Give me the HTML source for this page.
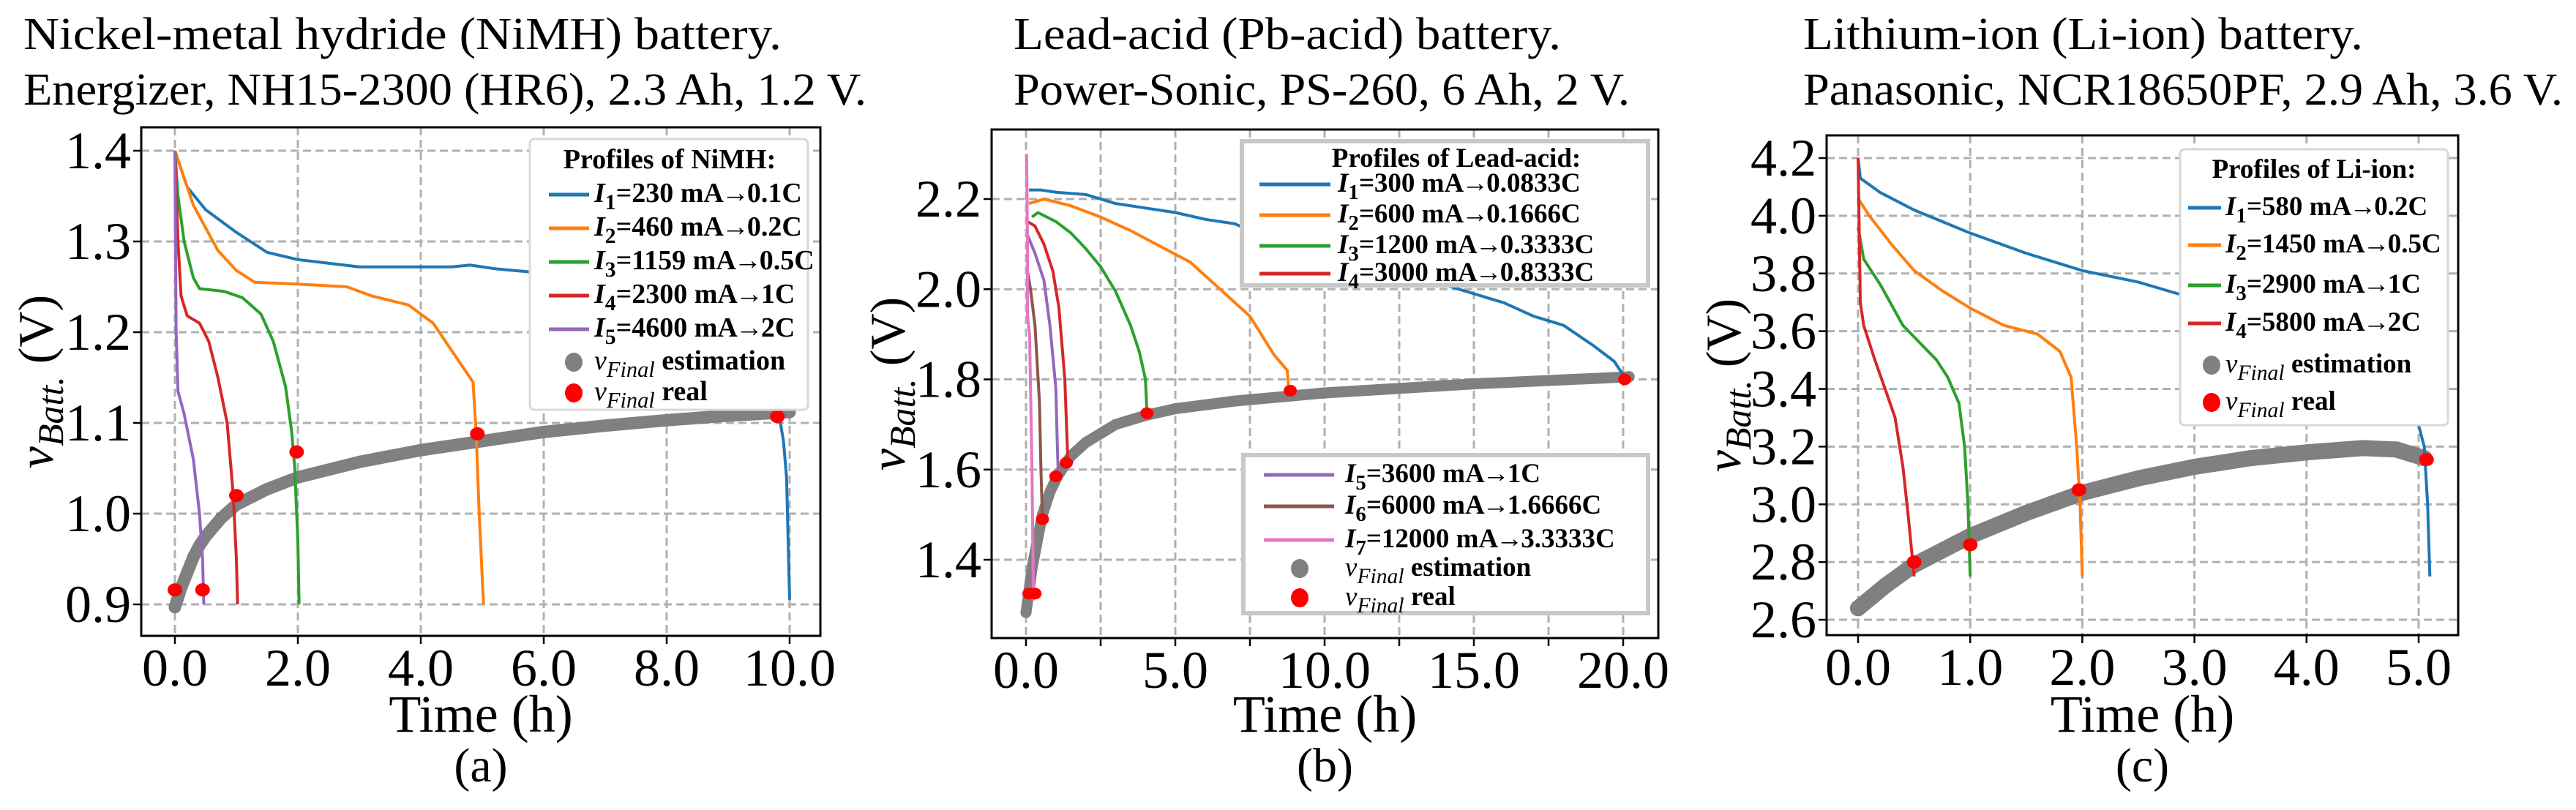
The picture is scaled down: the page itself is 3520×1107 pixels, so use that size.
<!DOCTYPE html>
<html><head><meta charset="utf-8"><style>
html,body{margin:0;padding:0;background:#fff}
svg{display:block;font-family:"Liberation Serif",serif}
</style></head><body>
<svg id="fig" width="3520" height="1107" viewBox="0 0 3520 1107" xmlns="http://www.w3.org/2000/svg"></svg>
<script>
// ---------- Panel A: NiMH ----------
const aSeriesNames = ["I1","I2","I3","I4","I5"];
const aI1 = [[0,1.40],[0.2,1.36],[0.5,1.335],[1,1.31],[1.5,1.288],[2,1.28],[2.5,1.276],[3,1.272],[4.5,1.272],[4.8,1.274],[5.2,1.27],[6,1.265],[7,1.26],[8,1.25],[9,1.23],[9.5,1.19],[9.8,1.12],[9.9,1.08],[9.95,1.04],[10,0.905]];
const aI2 = [[0,1.40],[0.3,1.34],[0.7,1.29],[1,1.268],[1.3,1.255],[2,1.253],[2.8,1.25],[3.2,1.24],[3.8,1.23],[4.2,1.21],[4.6,1.17],[4.85,1.145],[4.9,1.09],[4.95,1.0],[5.02,0.9]];
const aI3 = [[0,1.40],[0.05,1.35],[0.15,1.3],[0.3,1.26],[0.4,1.248],[0.8,1.245],[1.1,1.238],[1.4,1.22],[1.6,1.19],[1.8,1.14],[1.9,1.09],[1.95,1.05],[2.0,0.97],[2.02,0.9]];
const aI4 = [[0,1.40],[0.05,1.3],[0.1,1.24],[0.2,1.218],[0.4,1.21],[0.55,1.19],[0.7,1.15],[0.85,1.1],[0.95,1.02],[1.0,0.95],[1.02,0.9]];
const aI5 = [[0,1.40],[0.02,1.2],[0.05,1.135],[0.15,1.11],[0.3,1.06],[0.4,1.0],[0.45,0.95],[0.47,0.9]];
const aEst = [[0,0.897],[0.1,0.918],[0.2,0.935],[0.3,0.952],[0.4,0.965],[0.5,0.975],[0.75,0.995],[1,1.01],[1.5,1.027],[2,1.04],[3,1.057],[4,1.07],[5,1.08],[6,1.09],[7,1.097],[8,1.103],[9,1.108],[10,1.112]];
const aReal = [[0.0,0.916],[0.45,0.916],[1.0,1.02],[1.98,1.068],[4.92,1.088],[9.8,1.107]];
const aXTicks = [0,2,4,6,8,10];
const aXTickLabels = ["0.0","2.0","4.0","6.0","8.0","10.0"];
const aYTicks = [0.9,1.0,1.1,1.2,1.3,1.4];
const aYTickLabels = ["0.9","1.0","1.1","1.2","1.3","1.4"];
const aLegend = [["I","1","=230 mA","0.1C"],["I","2","=460 mA","0.2C"],["I","3","=1159 mA","0.5C"],["I","4","=2300 mA","1C"],["I","5","=4600 mA","2C"]];

// ---------- Panel B: Lead-acid ----------
const bI1 = [[0.1,2.22],[0.5,2.22],[1,2.215],[2,2.21],[3,2.19],[4,2.18],[5,2.17],[6,2.155],[7,2.145],[7.5,2.13],[10,2.10],[12,2.07],[14,2.01],[16,1.97],[17,1.94],[18,1.92],[19,1.875],[19.7,1.84],[20.1,1.80]];
const bI2 = [[0.1,2.19],[0.6,2.2],[1.5,2.185],[2.5,2.16],[3.5,2.13],[4.5,2.095],[5.5,2.06],[6.5,2.0],[7.5,1.94],[8.3,1.855],[8.75,1.82],[8.8,1.775]];
const bI3 = [[0.2,2.16],[0.4,2.17],[1,2.15],[1.5,2.125],[2,2.09],[2.5,2.05],[3,1.995],[3.5,1.92],[3.8,1.86],[4.0,1.80],[4.05,1.725]];
const bI4 = [[0.05,2.15],[0.3,2.14],[0.6,2.1],[0.9,2.04],[1.1,1.96],[1.3,1.8],[1.4,1.62]];
const bI5 = [[0.05,2.12],[0.3,2.08],[0.6,2.02],[0.8,1.92],[1.0,1.78],[1.05,1.65],[1.08,1.59]];
const bI6 = [[0.05,2.04],[0.15,2.0],[0.3,1.92],[0.45,1.75],[0.5,1.6],[0.55,1.49]];
const bI7 = [[0.02,2.3],[0.05,2.1],[0.05,1.94],[0.12,1.9],[0.2,1.6],[0.25,1.31]];
const bEst = [[0,1.283],[0.2,1.38],[0.4,1.45],[0.55,1.5],[0.8,1.55],[1.05,1.585],[1.5,1.63],[2,1.66],[3,1.7],[4,1.72],[5,1.735],[7,1.752],[10,1.77],[15,1.79],[20,1.805],[20.2,1.806]];
const bReal = [[0.1,1.325],[0.3,1.325],[0.55,1.49],[1.0,1.585],[1.35,1.615],[4.05,1.725],[8.85,1.775],[20.05,1.8]];
const bXTicks = [0,5,10,15,20];
const bXTickLabels = ["0.0","5.0","10.0","15.0","20.0"];
const bXMinor = [2.5,7.5,12.5,17.5];
const bYTicks = [1.4,1.6,1.8,2.0,2.2];
const bYTickLabels = ["1.4","1.6","1.8","2.0","2.2"];
const bLegend1 = [["I","1","=300 mA","0.0833C"],["I","2","=600 mA","0.1666C"],["I","3","=1200 mA","0.3333C"],["I","4","=3000 mA","0.8333C"]];
const bLegend2 = [["I","5","=3600 mA","1C"],["I","6","=6000 mA","1.6666C"],["I","7","=12000 mA","3.3333C"]];

// ---------- Panel C: Li-ion ----------
const cI1 = [[0,4.2],[0.02,4.13],[0.2,4.08],[0.5,4.02],[1,3.94],[1.5,3.87],[2,3.81],[2.5,3.77],[2.85,3.73],[3.5,3.68],[4,3.63],[4.5,3.55],[4.9,3.42],[5.05,3.2],[5.08,3.0],[5.1,2.75]];
const cI2 = [[0,4.06],[0.1,4.0],[0.3,3.9],[0.5,3.81],[0.75,3.74],[1,3.68],[1.3,3.62],[1.6,3.59],[1.8,3.53],[1.9,3.44],[1.95,3.2],[1.98,3.0],[2.0,2.75]];
const cI3 = [[0,3.96],[0.05,3.85],[0.2,3.76],[0.4,3.62],[0.55,3.56],[0.7,3.5],[0.8,3.44],[0.9,3.35],[0.95,3.2],[0.98,3.0],[1.0,2.75]];
const cI4 = [[0,4.2],[0.02,3.7],[0.05,3.62],[0.15,3.5],[0.25,3.39],[0.33,3.3],[0.4,3.13],[0.45,2.95],[0.5,2.75]];
const cEst = [[0,2.64],[0.25,2.72],[0.5,2.79],[1,2.89],[1.5,2.97],[2,3.04],[2.5,3.09],[3,3.13],[3.5,3.16],[4,3.18],[4.5,3.195],[4.8,3.19],[5.05,3.16]];
const cReal = [[0.5,2.80],[1.0,2.86],[1.97,3.05],[5.07,3.155]];
const cXTicks = [0,1,2,3,4,5];
const cXTickLabels = ["0.0","1.0","2.0","3.0","4.0","5.0"];
const cYTicks = [2.6,2.8,3.0,3.2,3.4,3.6,3.8,4.0,4.2];
const cYTickLabels = ["2.6","2.8","3.0","3.2","3.4","3.6","3.8","4.0","4.2"];
const cLegend = [["I","1","=580 mA","0.2C"],["I","2","=1450 mA","0.5C"],["I","3","=2900 mA","1C"],["I","4","=5800 mA","2C"]];

const COLORS = ["#1f77b4","#ff7f0e","#2ca02c","#d62728","#9467bd","#8c564b","#e377c2"];
const NS = "http://www.w3.org/2000/svg";
const svg = document.getElementById("fig");
function mk(tag, attrs, parent){const e=document.createElementNS(NS,tag);for(const k in attrs)e.setAttribute(k,attrs[k]);(parent||svg).appendChild(e);return e;}
function lin(d0,d1,r0,r1){return v=>r0+(v-d0)/(d1-d0)*(r1-r0);}

function panel(p){
  const g = mk("g",{});
  
  
  const sx=p.sx, sy=p.sy;
  const t = mk("text",{x:p.titleX,y:67,"font-size":62,textLength:p.tw1,lengthAdjust:"spacingAndGlyphs"},g);
  
  
  t.textContent=p.title1;
  const t2 = mk("text",{x:p.titleX,y:143,"font-size":62,textLength:p.tw2,lengthAdjust:"spacingAndGlyphs"},g);
  
  
  t2.textContent=p.title2;
  const grid = mk("g",{stroke:"#b0b0b0","stroke-width":3,"stroke-dasharray":"11,6"},g);
  
  
  p.xt.concat(p.xminor||[]).forEach(v=>mk("line",{x1:sx(v),x2:sx(v),y1:p.T,y2:p.B},grid));
  p.yt.forEach(v=>mk("line",{x1:p.L,x2:p.R,y1:sy(v),y2:sy(v)},grid));
  const clip = "clip-"+p.name;
  const cp = mk("clipPath",{id:clip},g); mk("rect",{x:p.L,y:p.T,width:p.R-p.L,height:p.B-p.T},cp);
  const plot = mk("g",{"clip-path":"url(#"+clip+")"},g);
  const est = mk("polyline",{points:p.est.map(d=>sx(d[0])+","+sy(d[1])).join(" "),fill:"none",stroke:"#808080","stroke-width":p.estW,"stroke-linecap":"round","stroke-linejoin":"round"},plot);
  
  
  p.est.forEach(d=>{const c=mk("circle",{cx:sx(d[0]),cy:sy(d[1]),r:p.estW/2,fill:"#808080"},plot);
    
    });
  p.series.forEach((s,i)=>{
    const l = mk("polyline",{points:s.map(d=>sx(d[0])+","+sy(d[1])).join(" "),fill:"none",stroke:COLORS[i],"stroke-width":4,"stroke-linejoin":"round"},plot);
    
    
  });
  p.real.forEach(d=>{const c=mk("ellipse",{cx:sx(d[0]),cy:sy(d[1]),rx:p.realR+1,ry:p.realR,fill:"#ff0000"},plot);
    
    });
  const fr = mk("rect",{x:p.L,y:p.T,width:p.R-p.L,height:p.B-p.T,fill:"none",stroke:"#000","stroke-width":3},g);
  
  
  p.xt.forEach((v,i)=>{mk("line",{x1:sx(v),x2:sx(v),y1:p.B,y2:p.B+11,stroke:"#000","stroke-width":2.5},g);
    const tl=mk("text",{x:sx(v),y:p.B+68,"font-size":72,"text-anchor":"middle"},g);
    
    
    tl.textContent=p.xl[i];});
  (p.xminor||[]).forEach(v=>mk("line",{x1:sx(v),x2:sx(v),y1:p.B,y2:p.B+11,stroke:"#000","stroke-width":2.5},g));
  p.yt.forEach((v,i)=>{mk("line",{x1:p.L-11,x2:p.L,y1:sy(v),y2:sy(v),stroke:"#000","stroke-width":2.5},g);
    const tl=mk("text",{x:p.L-14,y:sy(v)+24,"font-size":72,"text-anchor":"end"},g);
    
    
    tl.textContent=p.yl[i];});
  const xt = mk("text",{x:(p.L+p.R)/2,y:1000,"font-size":72,"text-anchor":"middle"},g);
  
  
  xt.textContent="Time (h)";
  const sub = mk("text",{x:(p.L+p.R)/2,y:1068,"font-size":66,"text-anchor":"middle"},g);
  
  
  sub.textContent=p.label;
  const yt = mk("text",{transform:"translate("+p.ylx+","+((p.T+p.B)/2)+") rotate(-90)","font-size":68,"text-anchor":"middle"},g);
  
  
  yt.innerHTML='<tspan font-style="italic">v</tspan><tspan font-style="italic" font-size="50" dy="14">Batt.</tspan><tspan dy="-14"> (V)</tspan>';
  return g;
}

function legend(g, box, title, entries, colorOffset, rows, extra, opts){
  const lg = mk("g",{},g);
  
  
  mk("rect",{x:box[0],y:box[1],width:box[2]-box[0],height:box[3]-box[1],rx:opts.rx,fill:"#fff",stroke:opts.stroke,"stroke-width":opts.sw},lg);
  if(title){const tt=mk("text",{x:opts.titleX,y:opts.titleY,"font-size":opts.fs,"font-weight":"bold","text-anchor":"middle"},lg);
    
    
    tt.textContent=title;}
  entries.forEach((e,i)=>{
    const y=rows[i];
    mk("line",{x1:opts.lx1,x2:opts.lx2,y1:y-10,y2:y-10,stroke:COLORS[i+colorOffset],"stroke-width":5},lg);
    const tx=mk("text",{x:opts.tx,y:y,"font-size":opts.fs,"font-weight":"bold"},lg);
    
    
    tx.innerHTML='<tspan font-style="italic">'+e[0]+'</tspan><tspan font-size="'+(opts.fs*0.78)+'" dy="10">'+e[1]+'</tspan><tspan dy="-10">'+e[2]+'</tspan><tspan font-family="Liberation Sans" font-weight="normal" dx="-3">→</tspan><tspan dx="-3">'+e[3]+'</tspan>';
  });
  if(extra){
    [["estimation","#808080"],["real","#ff0000"]].forEach((m,i)=>{
      const y=extra[i];
      mk("ellipse",{cx:opts.mx,cy:y-10,rx:12,ry:13,fill:m[1]},lg);
      const tx=mk("text",{x:opts.tx,y:y,"font-size":opts.fs,"font-weight":"bold"},lg);
      
      
      tx.innerHTML='<tspan font-style="italic" font-weight="normal">v</tspan><tspan font-style="italic" font-weight="normal" font-size="'+(opts.fs*0.8)+'" dy="10">Final</tspan><tspan dy="-10"> '+m[0]+'</tspan>';
    });
  }
}

const gA = panel({name:"panel-a-nimh",titleX:32,tw1:1036,tw2:1152,title1:"Nickel-metal hydride (NiMH) battery.",title2:"Energizer, NH15-2300 (HR6), 2.3 Ah, 1.2 V.",
  L:193,R:1121,T:174,B:869,sx:lin(0,10,239,1079),sy:lin(1.4,0.9,206,826),
  xt:aXTicks,xl:aXTickLabels,yt:aYTicks,yl:aYTickLabels,series:[aI1,aI2,aI3,aI4,aI5],est:aEst,real:aReal,estW:17,realR:9,label:"(a)",ylx:72});
legend(gA,[724,190,1104,560],"Profiles of NiMH:",aLegend,0,[276,322,368,414,460],[505,547],{rx:6,stroke:"#d8d8d8",sw:3,fs:38,titleX:915,titleY:230,lx1:750,lx2:805,tx:812,mx:784});

const gB = panel({name:"panel-b-lead-acid",titleX:1385,tw1:748,tw2:842,title1:"Lead-acid (Pb-acid) battery.",title2:"Power-Sonic, PS-260, 6 Ah, 2 V.",
  L:1355,R:2266,T:177,B:872,sx:lin(0,20,1402,2218),sy:lin(2.2,1.4,272,765),
  xt:bXTicks,xl:bXTickLabels,xminor:bXMinor,yt:bYTicks,yl:bYTickLabels,series:[bI1,bI2,bI3,bI4,bI5,bI6,bI7],est:bEst,real:bReal,estW:15,realR:8,label:"(b)",ylx:1236});
legend(gB,[1697,193,2252,390],"Profiles of Lead-acid:",bLegend1,0,[262,304,346,384],null,{rx:0,stroke:"#c8c8c8",sw:6,fs:37,titleX:1990,titleY:228,lx1:1721,lx2:1818,tx:1828,mx:0});
legend(gB,[1699,622,2252,838],null,bLegend2,4,[659,702,748],[787,827],{rx:0,stroke:"#c8c8c8",sw:6,fs:37,titleX:0,titleY:0,lx1:1727,lx2:1823,tx:1838,mx:1776});

const gC = panel({name:"panel-c-li-ion",titleX:2464,tw1:765,tw2:1038,title1:"Lithium-ion (Li-ion) battery.",title2:"Panasonic, NCR18650PF, 2.9 Ah, 3.6 V.",
  L:2496,R:3359,T:185,B:868,sx:lin(0,5,2539,3305),sy:lin(4.2,2.6,216,847),
  xt:cXTicks,xl:cXTickLabels,yt:cYTicks,yl:cYTickLabels,series:[cI1,cI2,cI3,cI4],est:cEst,real:cReal,estW:22,realR:9,label:"(c)",ylx:2378});
legend(gC,[2979,204,3345,581],"Profiles of Li-ion:",cLegend,0,[294,345,400,452],[509,560],{rx:6,stroke:"#d8d8d8",sw:3,fs:37,titleX:3162,titleY:243,lx1:2990,lx2:3035,tx:3041,mx:3022});
</script>
</body></html>
